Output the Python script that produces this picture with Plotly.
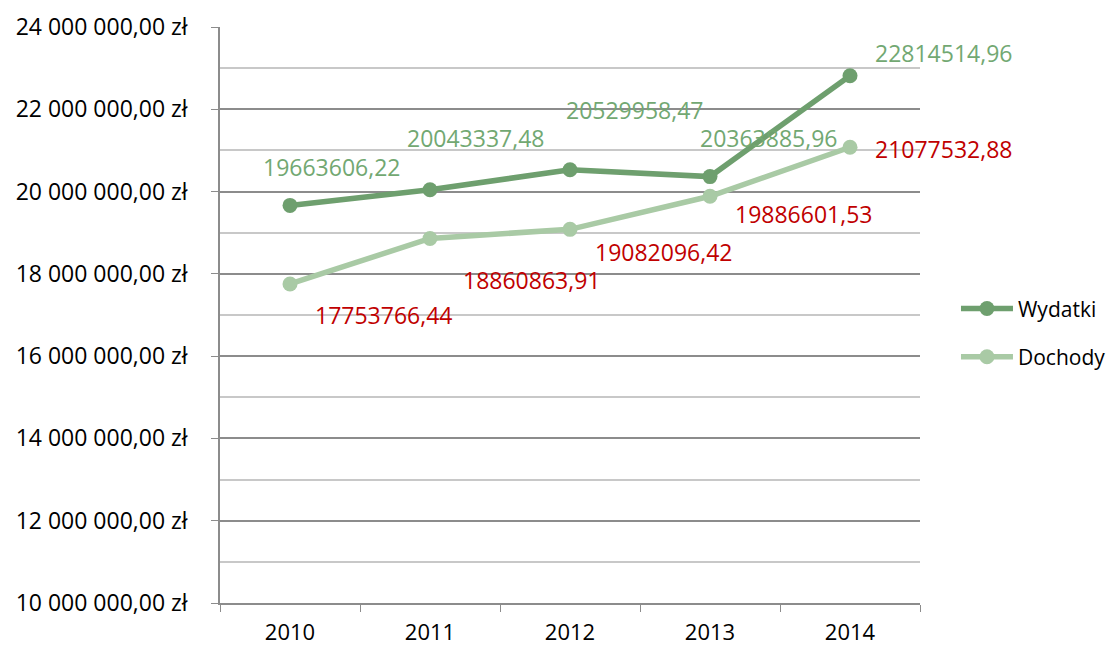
import plotly.graph_objects as go

years = ["2010", "2011", "2012", "2013", "2014"]
wydatki = [19663606.22, 20043337.48, 20529958.47, 20363885.96, 22814514.96]
dochody = [17753766.44, 18860863.91, 19082096.42, 19886601.53, 21077532.88]
y_tick_vals = [10e6, 12e6, 14e6, 16e6, 18e6, 20e6, 22e6, 24e6]
y_tick_text = ["10 000 000,00 zł", "12 000 000,00 zł", "14 000 000,00 zł", "16 000 000,00 zł",
               "18 000 000,00 zł", "20 000 000,00 zł", "22 000 000,00 zł", "24 000 000,00 zł"]

# label offsets in pixels (dx right, dy down) - style only
w_off = [(41, -38), (45, -52), (64, -60), (58, -39), (93, -23)]
d_off = [(93, 31), (101, 42), (93, 23), (93, 18), (93, 2)]

C_W = "#6e9f6e"
C_D = "#a9caa5"
C_WL = "#72a872"
C_DL = "#c00000"
FONT = "Open Sans"
FS = 23


def fmt(v):
    return f"{v:.2f}".replace(".", ",")


fig = go.Figure()
fig.add_trace(go.Scatter(x=years, y=wydatki, name="Wydatki", mode="lines+markers",
                         line=dict(color=C_W, width=5.5), marker=dict(size=15, color=C_W),
                         legendgroup="a"))
fig.add_trace(go.Scatter(x=years, y=dochody, name="Dochody", mode="lines+markers",
                         line=dict(color=C_D, width=5.5), marker=dict(size=15, color=C_D),
                         legendgroup="b"))

for i, (v, (dx, dy)) in enumerate(zip(wydatki, w_off)):
    fig.add_annotation(x=i, y=v, xref="x", yref="y", text=fmt(v), showarrow=False,
                       xshift=dx, yshift=-dy, xanchor="center", yanchor="middle",
                       font=dict(family=FONT, size=FS, color=C_WL))
for i, (v, (dx, dy)) in enumerate(zip(dochody, d_off)):
    fig.add_annotation(x=i, y=v, xref="x", yref="y", text=fmt(v), showarrow=False,
                       xshift=dx, yshift=-dy, xanchor="center", yanchor="middle",
                       font=dict(family=FONT, size=FS, color=C_DL))

fig.update_layout(
    width=1118, height=648,
    margin=dict(l=212, r=206, t=19, b=53, autoexpand=False),
    paper_bgcolor="white", plot_bgcolor="white",
    font=dict(family=FONT, size=FS, color="black"),
    showlegend=True,
    legend=dict(x=1.0514, y=0.469, xanchor="left", yanchor="middle", itemwidth=52,
                font=dict(family=FONT, size=21, color="black"),
                tracegroupgap=18, bgcolor="rgba(0,0,0,0)"),
    xaxis=dict(type="category", range=[-0.5, 4.5], showline=True, linecolor="#8c8c8c", linewidth=1.5,
               ticks="outside", ticklen=7, tickcolor="#8c8c8c", tickson="boundaries",
               showgrid=False, tickfont=dict(size=22, family=FONT, color="black"),
               ticklabelstandoff=9, automargin=False),
    yaxis=dict(range=[10e6, 24e6], tickvals=y_tick_vals, ticktext=y_tick_text,
               showline=True, linecolor="#8c8c8c", linewidth=1.5,
               ticks="outside", ticklen=7, tickcolor="#8c8c8c",
               showgrid=True, gridcolor="#8c8c8c", gridwidth=1.5, zeroline=False,
               minor=dict(dtick=1e6, tick0=0, showgrid=True, gridcolor="#c8c8c8", gridwidth=1.5, ticks=""),
               tickfont=dict(size=FS, family=FONT, color="black"), ticklabelstandoff=19,
               automargin=False),
)

fig.write_html("out.html")
